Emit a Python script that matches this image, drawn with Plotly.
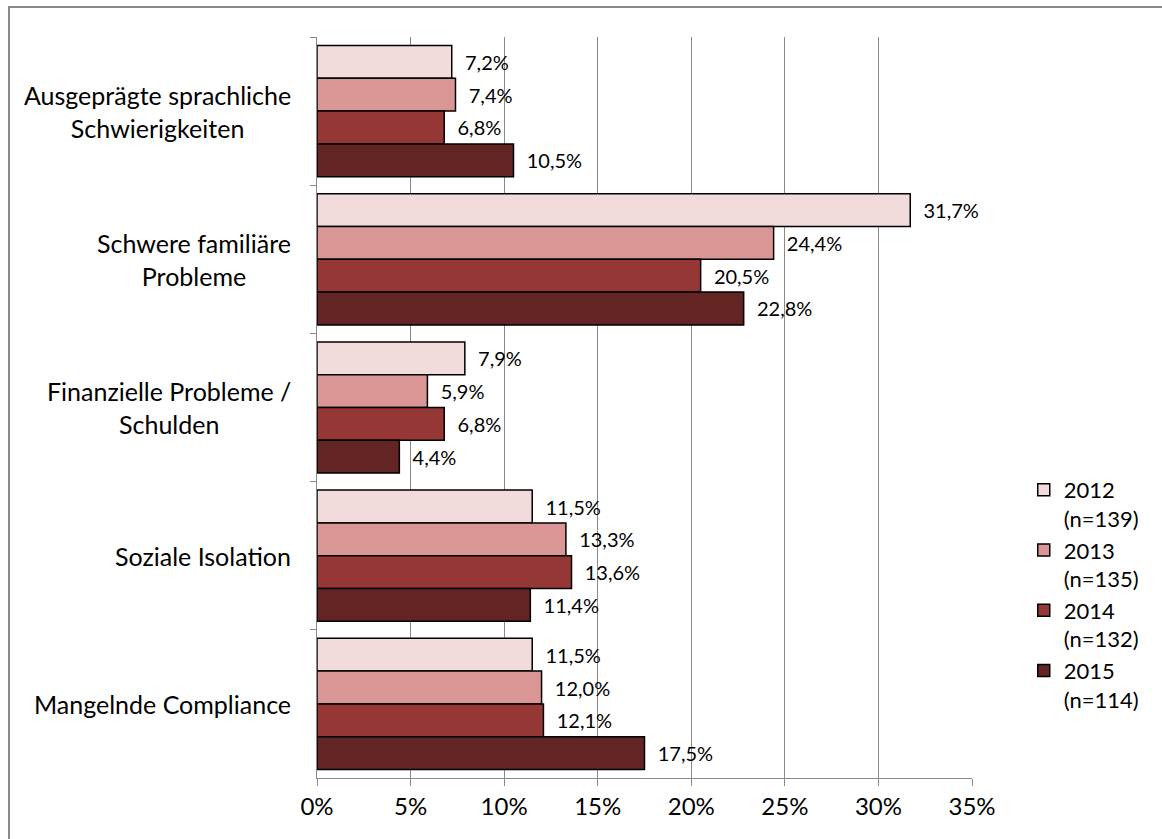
import plotly.graph_objects as go

# Problem categories (top to bottom) and share of cases per survey year, in percent
categories = [
    "Ausgeprägte sprachliche<br>Schwierigkeiten",
    "Schwere familiäre<br>Probleme",
    "Finanzielle Probleme /<br>Schulden",
    "Soziale Isolation",
    "Mangelnde Compliance",
]
series_names = ["2012<br>(n=139)", "2013<br>(n=135)", "2014<br>(n=132)", "2015<br>(n=114)"]
values_2012 = [7.2, 31.7, 7.9, 11.5, 11.5]
values_2013 = [7.4, 24.4, 5.9, 13.3, 12.0]
values_2014 = [6.8, 20.5, 6.8, 13.6, 12.1]
values_2015 = [10.5, 22.8, 4.4, 11.4, 17.5]
series_values = [values_2012, values_2013, values_2014, values_2015]
tick_values = [0, 5, 10, 15, 20, 25, 30, 35]
tick_labels = ["0%", "5%", "10%", "15%", "20%", "25%", "30%", "35%"]

colors = ["#F2DCDB", "#DA9694", "#953735", "#632523"]
FONT = "Lato, 'Open Sans', sans-serif"
GRID = "#8a8a8a"


def fmt(v):
    return f"{v:.1f}".replace(".", ",") + "%"


fig = go.Figure()
for name, vals, col in zip(series_names, series_values, colors):
    fig.add_trace(go.Bar(
        y=categories,
        x=vals,
        name=name,
        orientation="h",
        marker=dict(color=col, line=dict(color="#000000", width=1.5)),
        text=["\u00a0\u00a0" + fmt(v) for v in vals],
        textposition="outside",
        textfont=dict(family=FONT, size=20, color="#000000"),
        constraintext="none",
        cliponaxis=False,
    ))

# category labels, centred block, right-aligned next to the axis
annotations = []
for cat in categories:
    annotations.append(dict(
        x=0, xref="paper", xanchor="right", xshift=-24,
        y=cat, yref="y", yanchor="middle",
        text=cat, align="center", showarrow=False,
        font=dict(family=FONT, size=25, color="#000000"),
    ))

fig.update_layout(
    width=1162, height=839,
    margin=dict(l=317, r=190, t=37, b=61, autoexpand=False),
    paper_bgcolor="#ffffff", plot_bgcolor="#ffffff",
    barmode="group", bargap=0.115, bargroupgap=0,
    font=dict(family=FONT, size=22, color="#000000"),
    showlegend=True,
    legend=dict(
        x=1.079, xanchor="left", y=0.417, yanchor="top",
        font=dict(family=FONT, size=22, color="#000000"),
        valign="top", tracegroupgap=10, bgcolor="rgba(0,0,0,0)",
    ),
    annotations=annotations,
    shapes=[dict(
        type="rect", xref="paper", yref="paper",
        x0=-0.4702, x1=1.32, y0=-0.12, y1=1.0405,
        line=dict(color=GRID, width=2), fillcolor="rgba(0,0,0,0)", layer="below",
    )],
)

fig.update_xaxes(
    range=[0, 35], tickvals=tick_values, ticktext=tick_labels,
    showgrid=True, gridcolor=GRID, gridwidth=1.3,
    showline=True, linecolor=GRID, linewidth=1.3,
    ticks="outside", ticklen=7, tickcolor=GRID, tickwidth=1.3,
    zeroline=False, tickfont=dict(family=FONT, size=24, color="#000000"),
)
fig.update_yaxes(
    categoryorder="array", categoryarray=categories, autorange="reversed",
    showticklabels=False, showgrid=False, zeroline=False,
    showline=True, linecolor=GRID, linewidth=1.3,
    ticks="outside", ticklen=6, tickcolor=GRID, tickwidth=1.3,
    tickson="boundaries",
)

fig.write_html("out.html")
